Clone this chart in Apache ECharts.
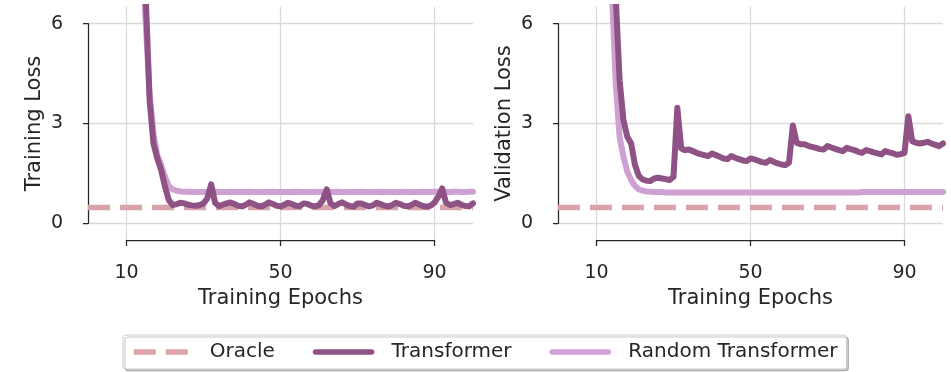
<!DOCTYPE html>
<html><head><meta charset="utf-8">
<script src="https://cdn.jsdelivr.net/npm/echarts@6/dist/echarts.min.js"></script>
<style>html,body{margin:0;padding:0;background:#fff}#c{width:951px;height:372px}</style>
</head><body><div id="c"></div>
<script>
// ---------------- data ----------------
const epochs = [12,13,14,15,16,17,18,19,20,21,
  22,23,24,25,26,27,28,29,30,31,
  32,33,34,35,36,37,38,39,40,41,
  42,43,44,45,46,47,48,49,50,51,
  52,53,54,55,56,57,58,59,60,61,
  62,63,64,65,66,67,68,69,70,71,
  72,73,74,75,76,77,78,79,80,81,
  82,83,84,85,86,87,88,89,90,91,
  92,93,94,95,96,97,98,99,100];

const oracleEpochs = [0, 100];
const oracleLoss = [0.48, 0.48];

const trainTransformer = [14.0,10.5,9.0,6.8,3.7,2.4,1.95,1.6,1.1,0.7,
  0.55,0.58,0.62,0.6,0.56,0.54,0.53,0.55,0.6,0.75,
  1.17,0.62,0.52,0.56,0.6,0.63,0.58,0.53,0.51,0.56,
  0.63,0.58,0.53,0.51,0.56,0.63,0.58,0.53,0.51,0.56,
  0.62,0.58,0.53,0.52,0.6,0.58,0.53,0.51,0.55,0.7,
  1.02,0.6,0.52,0.58,0.63,0.57,0.52,0.5,0.6,0.6,
  0.55,0.51,0.54,0.62,0.58,0.53,0.51,0.55,0.62,0.58,
  0.53,0.51,0.55,0.62,0.57,0.52,0.5,0.53,0.62,0.8,
  1.05,0.62,0.55,0.58,0.62,0.56,0.52,0.51,0.6];

const trainRandom = [14.0,10.5,8.2,6.0,3.9,2.7,2.05,1.75,1.4,1.12,
  1.02,0.98,0.96,0.95,0.95,0.94,0.94,0.94,0.94,0.94,
  0.94,0.95,0.94,0.94,0.94,0.95,0.94,0.94,0.94,0.94,
  0.95,0.94,0.94,0.94,0.94,0.94,0.95,0.94,0.94,0.94,
  0.94,0.94,0.95,0.94,0.94,0.94,0.94,0.95,0.94,0.94,
  0.94,0.94,0.94,0.95,0.94,0.94,0.94,0.94,0.94,0.95,
  0.94,0.94,0.94,0.94,0.95,0.94,0.94,0.94,0.94,0.94,
  0.95,0.94,0.94,0.94,0.94,0.95,0.94,0.94,0.95,0.95,
  0.95,0.94,0.94,0.95,0.95,0.94,0.94,0.95,0.95];

const valTransformer = [15.0,11.0,8.3,6.8,4.3,3.1,2.6,2.4,1.75,1.42,
  1.32,1.28,1.27,1.35,1.37,1.35,1.33,1.3,1.4,3.47,
  2.25,2.2,2.22,2.17,2.12,2.08,2.05,2.02,2.1,2.05,
  2.0,1.95,1.93,2.02,1.97,1.93,1.89,1.87,1.95,1.92,
  1.88,1.84,1.82,1.9,1.85,1.8,1.77,1.75,1.82,2.94,
  2.42,2.38,2.38,2.33,2.3,2.27,2.23,2.22,2.32,2.28,
  2.24,2.2,2.17,2.27,2.23,2.2,2.15,2.12,2.2,2.17,
  2.13,2.1,2.07,2.17,2.13,2.1,2.06,2.08,2.12,3.22,
  2.47,2.42,2.4,2.42,2.45,2.4,2.36,2.32,2.4];

const valRandom = [12.0,9.0,7.0,4.2,2.6,2.0,1.55,1.3,1.12,1.02,
  0.98,0.96,0.95,0.94,0.94,0.94,0.93,0.93,0.93,0.93,
  0.93,0.93,0.93,0.93,0.93,0.93,0.93,0.93,0.93,0.93,
  0.93,0.93,0.93,0.93,0.93,0.93,0.93,0.93,0.93,0.93,
  0.93,0.93,0.93,0.93,0.93,0.93,0.93,0.93,0.93,0.93,
  0.93,0.93,0.93,0.93,0.93,0.93,0.93,0.93,0.93,0.93,
  0.93,0.93,0.93,0.93,0.93,0.93,0.93,0.94,0.94,0.94,
  0.94,0.94,0.94,0.94,0.94,0.94,0.94,0.94,0.94,0.94,
  0.94,0.94,0.94,0.94,0.94,0.94,0.94,0.94,0.94];

const xTickLabels = ['10', '50', '90'];
const yTickMin = 0, yTickMax = 6, yTickStep = 3;
const panelNames = ['Training Loss', 'Validation Loss'];
const xName = 'Training Epochs';
const seriesNames = ['Oracle', 'Transformer', 'Random Transformer'];

// ---------------- style / layout ----------------
const FONT = 'DejaVu Sans';
const TXT = '#262626';
const C_ORACLE = '#d9a3aa', C_TF = '#8e5285', C_RT = '#cfa1d2';
const GRIDC = '#d9d9d9';
const X_MIN = 0, X_MAX = 100, Y_MIN = -0.5, Y_MAX = 6.5;
const PW = 385, PH = 233, PT = 7;
const panelLeft = [88, 558];

const grids = [], xAxes = [], yAxes = [], series = [];
function zip(a, b) { return a.map((v, i) => [v, b[i]]); }

function addPanel(p, left, yName, tfData, rtData) {
  const gi = grids.length;
  const pxX = PW / (X_MAX - X_MIN), pxY = PH / (Y_MAX - Y_MIN);
  const xa = Number(xTickLabels[0]), xb = Number(xTickLabels[xTickLabels.length - 1]);
  grids.push({ left: left, top: PT, width: PW, height: PH });
  grids.push({ left: left, top: PT + (Y_MAX - yTickMax) * pxY, width: PW, height: (yTickMax - yTickMin) * pxY });
  grids.push({ left: left + (xa - X_MIN) * pxX, top: PT, width: (xb - xa) * pxX, height: PH });

  xAxes.push({ gridIndex: gi, type: 'value', min: X_MIN, max: X_MAX, show: false });
  yAxes.push({ gridIndex: gi, type: 'value', min: Y_MIN, max: Y_MAX, show: false });

  xAxes.push({ gridIndex: gi + 1, type: 'value', min: 0, max: 1, show: false });
  yAxes.push({ gridIndex: gi + 1, type: 'value', min: yTickMin, max: yTickMax, interval: yTickStep,
    offset: 12,
    axisLine: { show: true, lineStyle: { color: TXT, width: 1.25 } },
    axisTick: { show: true, length: 5, lineStyle: { color: TXT, width: 1.25 } },
    axisLabel: { fontSize: 19, color: TXT, fontFamily: FONT, margin: 13 },
    splitLine: { show: true, lineStyle: { color: GRIDC, width: 1.3 } },
    name: yName, nameLocation: 'middle', nameGap: 31,
    nameTextStyle: { fontSize: 21, color: TXT, fontFamily: FONT } });

  xAxes.push({ gridIndex: gi + 2, type: 'category', data: xTickLabels, boundaryGap: false,
    offset: 14,
    axisLine: { show: true, lineStyle: { color: TXT, width: 1.25 } },
    axisTick: { show: true, length: 6, alignWithLabel: true, lineStyle: { color: TXT, width: 1.25 } },
    axisLabel: { fontSize: 19, color: TXT, fontFamily: FONT, margin: 10, interval: 0 },
    splitLine: { show: true, interval: 0, lineStyle: { color: GRIDC, width: 1.3 } },
    name: xName, nameLocation: 'middle', nameGap: 33,
    nameTextStyle: { fontSize: 21, color: TXT, fontFamily: FONT } });
  yAxes.push({ gridIndex: gi + 2, type: 'value', min: 0, max: 1, show: false });

  const common = { type: 'line', xAxisIndex: gi, yAxisIndex: gi, symbol: 'none', showSymbol: false,
    silent: true, clip: true };
  series.push(Object.assign({}, common, { name: seriesNames[0], z: 2, color: C_ORACLE,
    data: zip(oracleEpochs, oracleLoss),
    lineStyle: { color: C_ORACLE, width: 5.5, type: [22, 10], cap: 'butt' } }));
  series.push(Object.assign({}, common, { name: seriesNames[2], z: 3, color: C_RT,
    data: zip(epochs, rtData),
    lineStyle: { color: C_RT, width: 6, cap: 'round', join: 'round' } }));
  series.push(Object.assign({}, common, { name: seriesNames[1], z: 4, color: C_TF,
    data: zip(epochs, tfData),
    lineStyle: { color: C_TF, width: 6, cap: 'round', join: 'round' } }));
}

addPanel(0, panelLeft[0], panelNames[0], trainTransformer, trainRandom);
addPanel(1, panelLeft[1], panelNames[1], valTransformer, valRandom);

const chart = echarts.init(document.getElementById('c'), null, { renderer: 'canvas' });
chart.setOption({
  animation: false,
  backgroundColor: '#ffffff',
  grid: grids, xAxis: xAxes, yAxis: yAxes, series: series,
  legend: {
    data: seriesNames, left: 123, top: 335, orient: 'horizontal',
    padding: [7, 9, 7, 8], itemGap: 38, itemWidth: 56, itemHeight: 14,
    textStyle: { fontSize: 20, color: TXT, fontFamily: FONT, padding: [0, 0, 0, 15] },
    lineStyle: { width: 5.5 },
    borderColor: '#cccccc', borderWidth: 1, borderRadius: 3, backgroundColor: '#ffffff',
    shadowColor: 'rgba(0,0,0,0.22)', shadowOffsetX: 2, shadowOffsetY: 2, shadowBlur: 0,
    itemStyle: { opacity: 0 }, selectedMode: false
  }
});
</script></body></html>
